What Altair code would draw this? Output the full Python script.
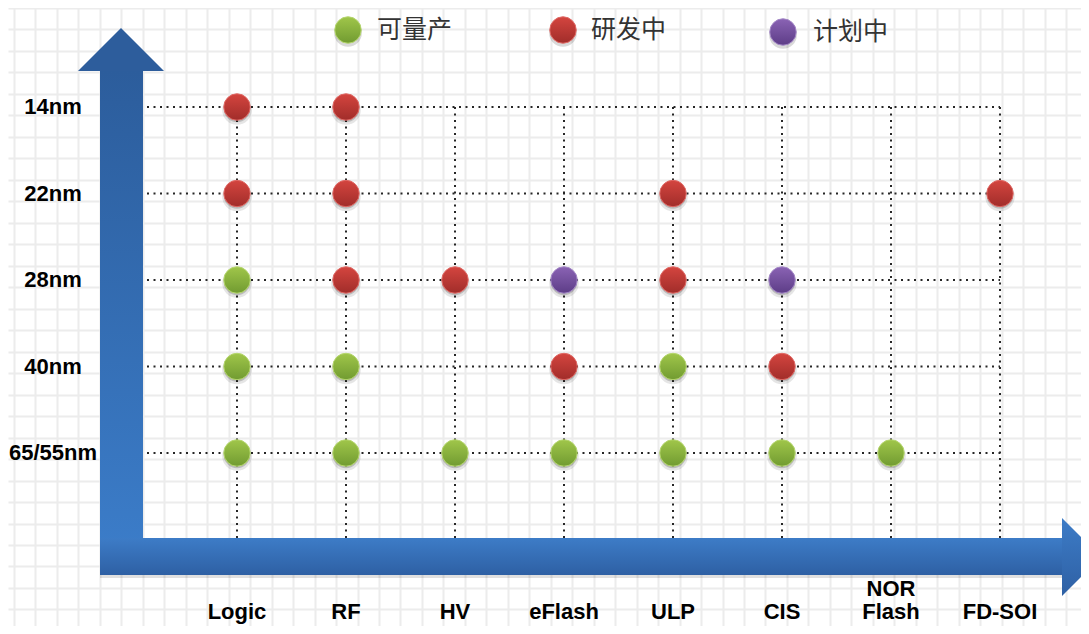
import altair as alt
import pandas as pd

# ---------------- data ----------------
processes = ["Logic", "RF", "HV", "eFlash", "ULP", "CIS", "NOR Flash", "FD-SOI"]
process_labels = ["Logic", "RF", "HV", "eFlash", "ULP", "CIS", "NOR\nFlash", "FD-SOI"]
nodes = ["65/55nm", "40nm", "28nm", "22nm", "14nm"]          # bottom -> top
statuses = ["可量产", "研发中", "计划中"]

dot_process = [
    "Logic", "RF",
    "Logic", "RF", "ULP", "FD-SOI",
    "Logic", "RF", "HV", "eFlash", "ULP", "CIS",
    "Logic", "RF", "eFlash", "ULP", "CIS",
    "Logic", "RF", "HV", "eFlash", "ULP", "CIS", "NOR Flash",
]
dot_node = ["14nm"] * 2 + ["22nm"] * 4 + ["28nm"] * 6 + ["40nm"] * 5 + ["65/55nm"] * 7
dot_status = [
    "研发中", "研发中",
    "研发中", "研发中", "研发中", "研发中",
    "可量产", "研发中", "研发中", "计划中", "研发中", "计划中",
    "可量产", "可量产", "研发中", "可量产", "研发中",
    "可量产", "可量产", "可量产", "可量产", "可量产", "可量产", "可量产",
]

# ---------------- styles / layout ----------------
grad_top = {"可量产": "#a0c64a", "研发中": "#d4453f", "计划中": "#8a63b4"}
grad_bot = {"可量产": "#719b31", "研发中": "#a12d2a", "计划中": "#5d3d87"}
edge = {"可量产": "#b5d66e", "研发中": "#e06a66", "计划中": "#a387c6"}

W, H = 1073, 618
COL0, COLSTEP = 237, 109.0
ROW0, ROWSTEP = 453, 86.5
LABEL_LH = 23


def ux(px):
    return (px - COL0) / COLSTEP


def uy(py):
    return (ROW0 - py) / ROWSTEP


def vgrad(top, bot):
    return alt.Gradient(gradient="linear", x1=0, y1=0, x2=0, y2=1,
                        stops=[alt.GradientStop(color=top, offset=0),
                               alt.GradientStop(color=bot, offset=1)])


xscale = alt.Scale(domain=[ux(8), ux(8 + W)], nice=False, zero=False)
yscale = alt.Scale(domain=[uy(8 + H), uy(8)], nice=False, zero=False)
gx = [ux(14 + 21.47 * k) for k in range(52)]
gy = [uy(8 + 21.48 * k) for k in range(30)]
xaxis = alt.Axis(values=gx, grid=True, gridColor="#ececec", gridWidth=2,
                 labels=False, ticks=False, domain=False, title=None)
yaxis = alt.Axis(values=gy, grid=True, gridColor="#ececec", gridWidth=2,
                 labels=False, ticks=False, domain=False, title=None)


def X(f="x"):
    return alt.X(f"{f}:Q", scale=xscale, axis=xaxis)


def Y(f="y"):
    return alt.Y(f"{f}:Q", scale=yscale, axis=yaxis)


pidx = {p: i for i, p in enumerate(processes)}
nidx = {n: i for i, n in enumerate(nodes)}

dots = pd.DataFrame({
    "process": dot_process, "node": dot_node, "status": dot_status,
})
dots["x"] = dots["process"].map(pidx)
dots["y"] = dots["node"].map(nidx)

cols = pd.DataFrame({"process": processes, "label": process_labels})
cols["x"] = range(len(processes))
cols["y"] = len(nodes) - 1
cols["y2"] = uy(540)
cols["nlines"] = [lab.count("\n") + 1 for lab in process_labels]
cols["ly"] = [uy(612 - LABEL_LH * (n - 1)) for n in cols["nlines"]]

rows = pd.DataFrame({"node": nodes})
rows["y"] = range(len(nodes))
rows["x"] = ux(147)
rows["x2"] = len(processes) - 1
rows["lx"] = ux(53)

legend = pd.DataFrame({"status": statuses})
legend["x"] = [ux(348), ux(563), ux(783)]
legend["tx"] = [ux(377), ux(591), ux(813)]
legend["y"] = [uy(30), uy(30), uy(32)]

# ---------------- layers ----------------
dotted = dict(strokeDash=[2, 4.5], strokeWidth=2, color="#262626")
vrules = alt.Chart(cols).mark_rule(**dotted).encode(x=X(), y=Y(), y2="y2:Q")
hrules = alt.Chart(rows).mark_rule(**dotted).encode(x=X(), x2="x2:Q", y=Y())

varrow = pd.DataFrame({"x": [ux(100)], "x2": [ux(143)], "y": [uy(71)], "y2": [uy(575)],
                       "hx": [ux(121)], "hy": [uy(71)]})
harrow = pd.DataFrame({"x": [ux(100)], "x2": [ux(1062)], "y": [uy(538)], "y2": [uy(575)],
                       "hx": [ux(1062)], "hy": [uy(557)]})

vshaft = alt.Chart(varrow).mark_rect(fill=vgrad("#2c5d9c", "#3c7ecb")).encode(
    x=X(), x2="x2:Q", y=Y(), y2="y2:Q")
vhead = alt.Chart(varrow).mark_point(
    shape="M -1 0 L 1 0 L 0 -1 Z", size=(2 * 43) ** 2, filled=True, opacity=1,
    fill="#2d5d9c", strokeWidth=0).encode(x=X("hx"), y=Y("hy"))

hshadow = alt.Chart(harrow).mark_rect(fill="#000000", opacity=0.12, yOffset=3, y2Offset=3).encode(
    x=X(), x2="x2:Q", y=Y(), y2="y2:Q")
hshaft = alt.Chart(harrow).mark_rect(fill=vgrad("#3d7cc7", "#2e60a4")).encode(
    x=X(), x2="x2:Q", y=Y(), y2="y2:Q")
hhead = alt.Chart(harrow).mark_point(
    shape="M 0 -1 L 1 0 L 0 1 Z", size=(2 * 39) ** 2, filled=True, opacity=1,
    fill=vgrad("#3d7cc7", "#2e60a4"), strokeWidth=0).encode(x=X("hx"), y=Y("hy"))

DOT = 700
shadow1 = alt.Chart(dots).mark_point(shape="circle", filled=True, color="#000000",
                                     opacity=0.10, size=DOT * 1.25, yOffset=3).encode(x=X(), y=Y())
shadow2 = alt.Chart(dots).mark_point(shape="circle", filled=True, color="#000000",
                                     opacity=0.18, size=DOT, yOffset=2).encode(x=X(), y=Y())
lshadow = alt.Chart(legend).mark_point(shape="circle", filled=True, color="#000000",
                                       opacity=0.15, size=DOT * 1.1, yOffset=3).encode(x=X(), y=Y())

dot_layers = []
for s in statuses:
    dot_layers.append(
        alt.Chart(dots).transform_filter(alt.datum.status == s).mark_point(
            shape="circle", size=DOT, opacity=1, fill=vgrad(grad_top[s], grad_bot[s]),
            stroke=edge[s], strokeWidth=1).encode(x=X(), y=Y()))
    dot_layers.append(
        alt.Chart(legend).transform_filter(alt.datum.status == s).mark_point(
            shape="circle", size=DOT, opacity=1, fill=vgrad(grad_top[s], grad_bot[s]),
            stroke=edge[s], strokeWidth=1).encode(x=X(), y=Y()))

legend_text = alt.Chart(legend).mark_text(
    align="left", baseline="middle", font="Noto Sans CJK SC", fontSize=25, color="#333333"
).encode(x=X("tx"), y=Y(), text="status:N")

ylabels = alt.Chart(rows).mark_text(
    align="center", baseline="middle", font="Liberation Sans", fontWeight="bold",
    fontSize=22, color="#000000").encode(x=X("lx"), y=Y(), text="node:N")

xlabels = alt.Chart(cols).mark_text(
    align="center", baseline="middle", font="Liberation Sans", fontWeight="bold",
    fontSize=22, color="#000000", lineBreak="\n", lineHeight=LABEL_LH).encode(
    x=X(), y=Y("ly"), text="label:N")

chart = alt.layer(
    vrules, hrules, vshaft, vhead, hshadow, hshaft, hhead,
    shadow1, shadow2, lshadow, *dot_layers, legend_text, ylabels, xlabels
).properties(
    width=W, height=H, padding=0, autosize=alt.AutoSizeParams(type="none"),
    background="#ffffff"
).configure_view(stroke=None)

chart.save("out.html", embed_options={"renderer": "svg", "actions": False})
